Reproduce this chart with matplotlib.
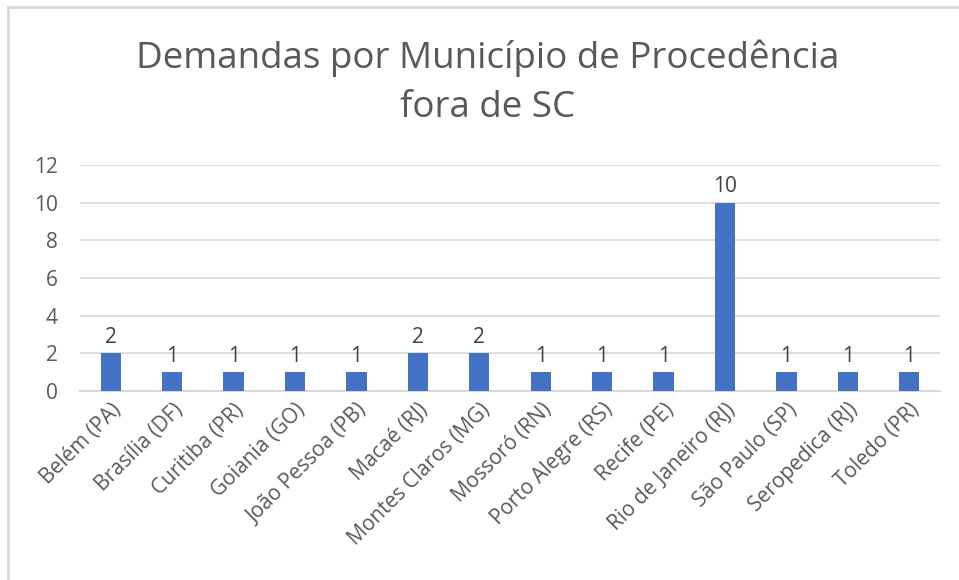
import matplotlib.pyplot as plt
from matplotlib.patches import Rectangle

municipios = ["Belém (PA)", "Brasília (DF)", "Curitiba (PR)", "Goiania (GO)",
              "João Pessoa (PB)", "Macaé (RJ)", "Montes Claros (MG)", "Mossoró (RN)",
              "Porto Alegre (RS)", "Recife (PE)", "Rio de Janeiro (RJ)",
              "São Paulo (SP)", "Seropedica (RJ)", "Toledo (PR)"]
demandas = [2, 1, 1, 1, 1, 2, 2, 1, 1, 1, 10, 1, 1, 1]
yticks = [0, 2, 4, 6, 8, 10, 12]

plt.rcParams['font.family'] = ['Open Sans', 'DejaVu Sans']

fig = plt.figure(figsize=(9.59, 5.8), dpi=100)
ax = fig.add_axes([80 / 959, 1 - 391 / 580, (940 - 80) / 959, (391 - 165) / 580])

x = list(range(len(municipios)))
bars = ax.bar(x, demandas, width=0.33, color='#4472C4', zorder=3)
ax.bar_label(bars, padding=4, fontsize=15, color='#404040')

ax.set_xlim(-0.5, len(municipios) - 0.5)
ax.set_ylim(0, 12)
ax.set_yticks(yticks)
ax.set_xticks(x)
ax.set_xticklabels(municipios, rotation=45, ha='right', rotation_mode='anchor')
ax.tick_params(axis='both', length=0, labelsize=15, labelcolor='#595959')
ax.tick_params(axis='y', pad=16)
ax.tick_params(axis='x', pad=6)
ax.grid(axis='y', color='#d9d9d9', linewidth=1.2, zorder=0)
for s in ['top', 'right', 'left']:
    ax.spines[s].set_visible(False)
ax.spines['bottom'].set_color('#d9d9d9')
ax.spines['bottom'].set_linewidth(1.5)

fig.text(488 / 959, 1 - 58 / 580, "Demandas por Município de Procedência",
         ha='center', va='center', fontsize=26.5, color='#595959')
fig.text(488 / 959, 1 - 108 / 580, "fora de SC",
         ha='center', va='center', fontsize=26.5, color='#595959')

# chart border (only top and left edges visible in the crop)
fig.patches.append(Rectangle((8 / 959, -0.1), 1.2, 1 - 7 / 580 + 0.1,
                             transform=fig.transFigure, fill=False,
                             edgecolor='#d9d9d9', linewidth=2))

fig.savefig('out.png', dpi=100)
